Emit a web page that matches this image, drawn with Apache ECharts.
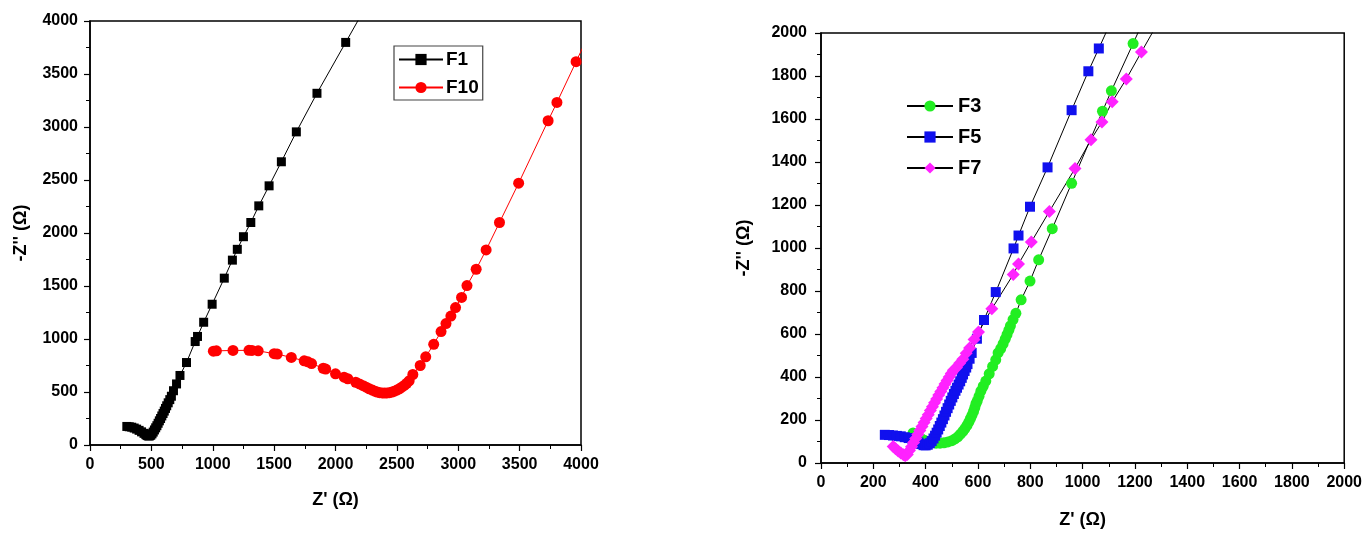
<!DOCTYPE html>
<html>
<head>
<meta charset="utf-8">
<script src="https://cdn.jsdelivr.net/npm/echarts@6/dist/echarts.min.js"></script>
<style>html,body{margin:0;padding:0;background:#fff}#c{width:1365px;height:534px}</style>
</head>
<body>
<div id="c"></div>
<script>
// Left panel
const leftXTicks = [0, 500, 1000, 1500, 2000, 2500, 3000, 3500, 4000];
const leftYTicks = [0, 500, 1000, 1500, 2000, 2500, 3000, 3500, 4000];
const F1 = [[300,175],[320,172],[340,168],[360,160],[380,150],[400,138],[420,124],[440,110],[455,98],[465,90],[475,85],[485,86],[495,92],[505,105],[515,122],[525,142],[535,162],[545,182],[555,205],[565,228],[575,250],[585,274],[595,297],[605,320],[615,345],[625,370],[637,398],[650,428],[663,460],[680,512],[705,576],[733,656],[786,778],[857,976],[876,1024],[926,1158],[995,1328],[1094,1574],[1160,1744],[1200,1846],[1250,1965],[1310,2099],[1375,2256],[1459,2445],[1559,2672],[1681,2954],[1849,3318],[2083,3798],[2230,4100]];
const F10 = [[1005,885],[1030,888],[1165,892],[1295,893],[1320,892],[1370,888],[1500,862],[1525,858],[1640,826],[1745,794],[1775,785],[1805,768],[1900,724],[1920,716],[2000,672],[2070,640],[2100,625],[2165,592],[2195,576],[2225,560],[2250,545],[2275,530],[2300,518],[2320,508],[2340,500],[2360,494],[2380,491],[2400,490],[2420,491],[2440,494],[2460,500],[2480,508],[2500,518],[2520,530],[2540,545],[2560,562],[2580,582],[2600,605],[2630,665],[2690,750],[2735,832],[2800,950],[2860,1070],[2900,1146],[2940,1216],[2978,1296],[3027,1392],[3071,1504],[3146,1658],[3227,1840],[3336,2099],[3492,2470],[3732,3059],[3804,3232],[3960,3616],[4040,3814]];
// Right panel
const rightXTicks = [0, 200, 400, 600, 800, 1000, 1200, 1400, 1600, 1800, 2000];
const rightYTicks = [0, 200, 400, 600, 800, 1000, 1200, 1400, 1600, 1800, 2000];
const F3 = [[352,140],[365,128],[380,116],[395,106],[410,99],[425,94],[440,92],[455,92],[470,94],[485,98],[500,104],[512,112],[523,122],[533,134],[542,147],[550,160],[558,175],[565,190],[571,206],[577,222],[583,240],[588,258],[592,275],[597,288],[604,310],[611,334],[620,357],[630,381],[643,415],[656,449],[668,480],[677,512],[687,532],[696,554],[704,576],[711,597],[718,618],[724,638],[734,667],[745,696],[765,759],[799,846],[832,945],[884,1090],[958,1301],[1076,1636],[1110,1731],[1193,1951],[1230,2050]];
const F5 = [[244,131],[260,130],[275,128],[290,126],[305,124],[320,120],[335,116],[350,110],[362,103],[373,95],[383,88],[392,83],[400,82],[408,85],[416,92],[423,102],[430,114],[436,127],[442,141],[448,156],[454,172],[460,188],[466,204],[472,221],[478,238],[484,255],[490,272],[496,289],[502,305],[508,321],[514,336],[520,350],[526,365],[532,380],[538,396],[543,412],[549,428],[555,444],[560,460],[568,485],[576,512],[596,578],[623,665],[668,795],[736,998],[755,1058],[799,1192],[866,1375],[958,1641],[1022,1822],[1062,1928],[1100,2030]];
const F7 = [[276,77],[285,66],[295,56],[305,46],[315,38],[322,34],[330,40],[338,58],[346,76],[354,95],[362,114],[370,132],[378,151],[386,170],[394,188],[402,207],[410,225],[418,244],[426,262],[434,280],[442,298],[450,316],[458,333],[466,350],[474,367],[482,384],[490,400],[498,416],[506,431],[518,444],[530,464],[542,483],[555,510],[568,535],[585,575],[602,609],[653,717],[735,877],[755,926],[804,1028],[873,1170],[971,1370],[1032,1504],[1074,1586],[1113,1680],[1167,1786],[1225,1912],[1280,2030]];

const FONT = '"Liberation Sans", Arial, sans-serif';
const fmt = v => String(v);
function xAxis(idx, ticks, name, gap) {
  return {
    type: 'value', gridIndex: idx, min: ticks[0], max: ticks[ticks.length-1],
    interval: ticks[1]-ticks[0],
    name: name, nameLocation: 'middle', nameGap: gap,
    nameTextStyle: {fontFamily: FONT, fontWeight: 'bold', fontSize: 18, color: '#000'},
    axisLine: {show: true, onZero: false, lineStyle: {color: '#000', width: 1.5}},
    axisTick: {show: true, inside: false, length: 6, lineStyle: {color: '#000', width: 1.2}},
    minorTick: {show: true, splitNumber: 2, length: 4, lineStyle: {color: '#000', width: 1}},
    splitLine: {show: false},
    axisLabel: {fontFamily: FONT, fontWeight: 'bold', fontSize: 16, color: '#000', margin: 12, formatter: fmt}
  };
}
function yAxis(idx, ticks, name, gap, margin) {
  return {
    type: 'value', gridIndex: idx, min: ticks[0], max: ticks[ticks.length-1],
    interval: ticks[1]-ticks[0],
    name: name, nameLocation: 'middle', nameGap: gap,
    nameTextStyle: {fontFamily: FONT, fontWeight: 'bold', fontSize: 18, color: '#000'},
    axisLine: {show: true, onZero: false, lineStyle: {color: '#000', width: 1.5}},
    axisTick: {show: true, inside: false, length: 6, lineStyle: {color: '#000', width: 1.2}},
    minorTick: {show: true, splitNumber: 2, length: 4, lineStyle: {color: '#000', width: 1}},
    splitLine: {show: false},
    axisLabel: {fontFamily: FONT, fontWeight: 'bold', fontSize: 16, color: '#000', margin: margin, formatter: fmt}
  };
}
function ser(name, data, xi, yi, symbol, size, color, lineColor) {
  return {
    name: name, type: 'line', data: data, xAxisIndex: xi, yAxisIndex: yi,
    symbol: symbol, symbolSize: size, showSymbol: true, showAllSymbol: true,
    clip: true, animation: false,
    lineStyle: {color: lineColor, width: 1},
    itemStyle: {color: color, borderWidth: 0}
  };
}
const chart = echarts.init(document.getElementById('c'));
chart.setOption({
  backgroundColor: '#fff',
  animation: false,
  grid: [
    {left: 90, top: 21, width: 491, height: 424, show: true, borderColor: '#000', borderWidth: 1.5, backgroundColor: 'transparent'},
    {left: 821, top: 33, width: 524, height: 432, show: true, borderColor: '#000', borderWidth: 1.5, backgroundColor: 'transparent'}
  ],
  xAxis: [xAxis(0, leftXTicks, "Z' (Ω)", 46), xAxis(1, rightXTicks, "Z' (Ω)", 48)],
  yAxis: [yAxis(0, leftYTicks, "-Z'' (Ω)", 60, 12), yAxis(1, rightYTicks, "-Z'' (Ω)", 68, 14)],
  legend: [
    {data: ['F1', 'F10'], orient: 'vertical', left: 394, top: 46, width: 88,
     itemWidth: 44, itemHeight: 14, itemGap: 9, padding: [4, 4, 3, 4],
     borderColor: '#444', borderWidth: 1.2,
     textStyle: {fontFamily: FONT, fontWeight: 'bold', fontSize: 19, color: '#000', padding: [0,0,0,-2]}},
    {data: ['F3', 'F5', 'F7'], orient: 'vertical', left: 906, top: 96,
     itemWidth: 46, itemHeight: 14, itemGap: 11, padding: 0,
     textStyle: {fontFamily: FONT, fontWeight: 'bold', fontSize: 20, color: '#000'}}
  ],
  series: [
    ser('F1', F1, 0, 0, 'rect', 9, '#000000', '#000000'),
    ser('F10', F10, 0, 0, 'circle', 11, '#ff0000', '#ff0000'),
    ser('F3', F3, 1, 1, 'circle', 11, '#22ee22', '#000000'),
    ser('F5', F5, 1, 1, 'rect', 10, '#1010ee', '#000000'),
    ser('F7', F7, 1, 1, 'diamond', 13, '#ff22ff', '#000000')
  ]
});
</script>
</body>
</html>
